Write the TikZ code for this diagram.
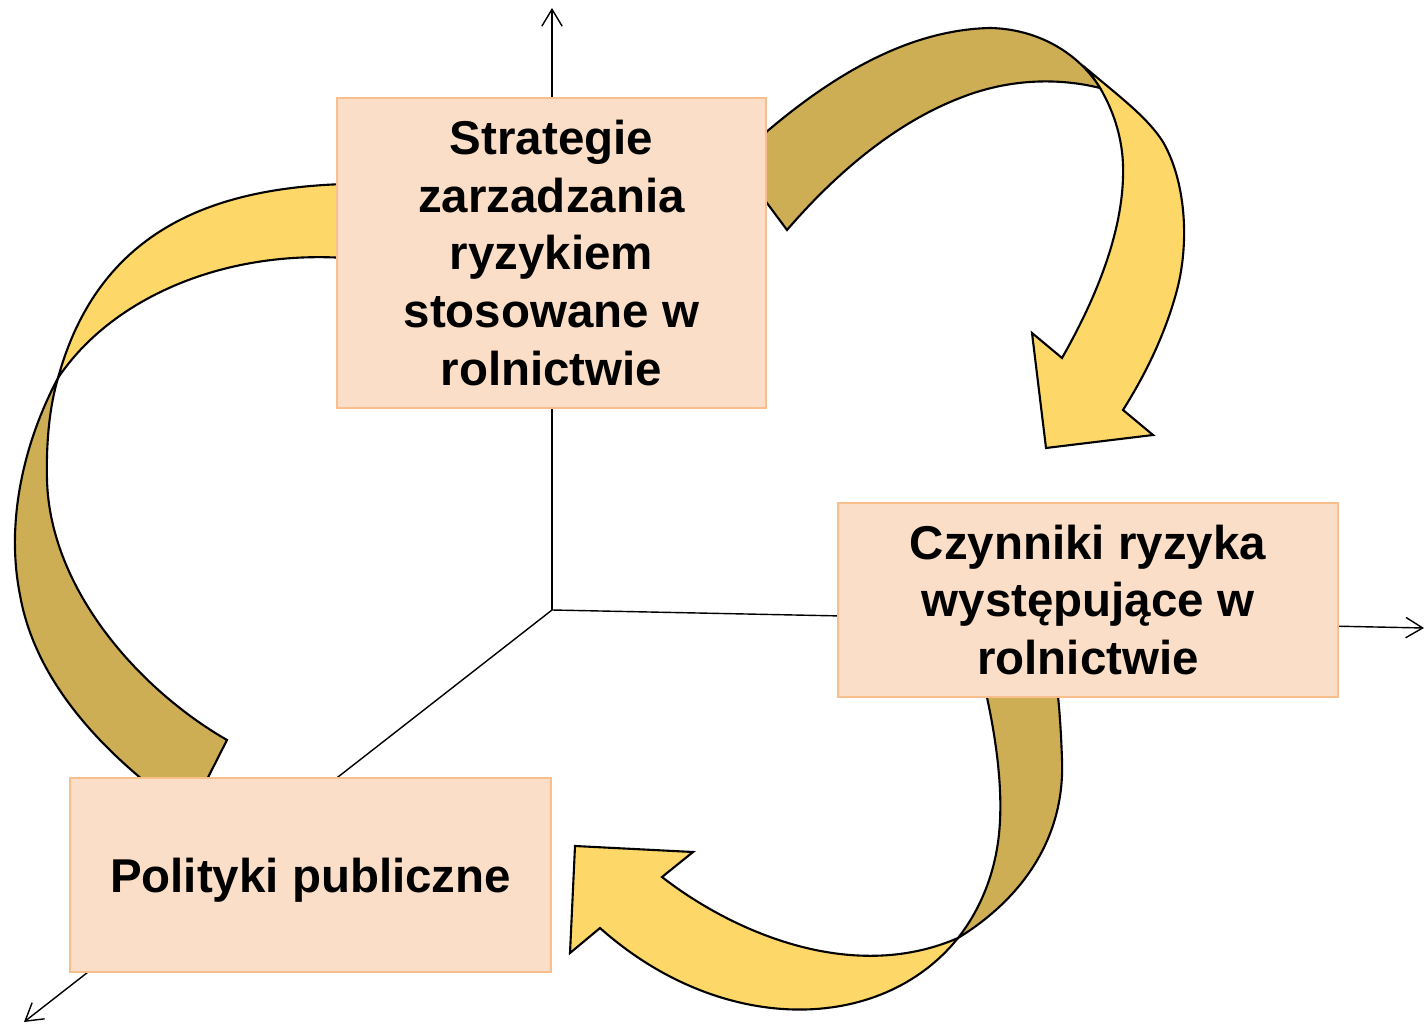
\documentclass[tikz,border=0pt]{standalone}
\usepackage{fontspec}
\setmainfont{Liberation Sans}
\usetikzlibrary{arrows.meta}
\definecolor{boxFill}{RGB}{250,222,199}
\definecolor{boxLine}{RGB}{248,190,140}
\definecolor{ribbonFront}{RGB}{253,216,104}
\definecolor{ribbonBack}{RGB}{205,174,84}

\begin{document}
\begin{tikzpicture}[x=0.01cm, y=-0.01cm, >={Straight Barb[length=4.8pt,width=5.8pt]},
    box/.style={draw=boxLine, fill=boxFill, line width=0.6pt, align=center, inner sep=0pt,
        font=\fontsize{13.5}{16.4}\selectfont\bfseries},
    front/.style={fill=ribbonFront, draw=black, line width=0.6pt},
    back/.style={fill=ribbonBack, draw=black, line width=0.6pt}]
    \useasboundingbox (0,0) rectangle (1428,1025);
    % axes
    \coordinate (O) at (552,610);
    \coordinate (yTop) at (552,8);
    \coordinate (xEnd) at (1424,628);
    \coordinate (zEnd) at (24,1022);
    \draw[->] (O) -- (yTop);
    \draw[->] (O) -- (xEnd);
    \draw[->] (O) -- (zEnd);
    % ribbon: strategie -> czynniki
    \filldraw[front] (1088,70) .. controls (1120,97) and (1148,118) .. (1163,142)
        .. controls (1185,180) and (1190,240) .. (1177,290)
        .. controls (1165,335) and (1145,375) .. (1123,410)
        -- (1153,435) -- (1046,448) -- (1032,333) -- (1062,358)
        .. controls (1095,300) and (1125,230) .. (1123,165)
        .. controls (1122,135) and (1112,108) .. (1100,88) -- cycle;
    \filldraw[back] (735,160) .. controls (815,85) and (900,30) .. (990,28)
        .. controls (1040,29) and (1080,55) .. (1100,88)
        .. controls (1060,78) and (1010,78) .. (960,98)
        .. controls (890,125) and (830,180) .. (787,230) -- cycle;
    % ribbon: polityki -> strategie
    \filldraw[front] (345,184) .. controls (220,188) and (100,225) .. (58,378)
        .. controls (110,300) and (220,250) .. (345,258) -- cycle;
    \filldraw[back] (58,378) .. controls (25,440) and (5,520) .. (20,595)
        .. controls (35,680) and (100,750) .. (175,805)
        -- (194,805) -- (227,740)
        .. controls (140,690) and (50,590) .. (47,480)
        .. controls (46,440) and (50,405) .. (58,378) -- cycle;
    % ribbon: czynniki -> polityki
    \filldraw[back] (983,680) .. controls (995,730) and (1002,780) .. (1000,820)
        .. controls (998,870) and (980,910) .. (958,938)
        .. controls (1020,900) and (1065,840) .. (1062,760)
        .. controls (1061,730) and (1059,700) .. (1056,680) -- cycle;
    \filldraw[front] (958,938) .. controls (880,1035) and (720,1035) .. (600,928)
        -- (570,953) -- (575,846) -- (693,852) -- (662,877)
        .. controls (730,930) and (850,985) .. (958,938) -- cycle;
    % boxes
    \node[box, minimum width=4.29cm, minimum height=3.10cm] (strat) at (551.5,253)
        {Strategie\\ zarzadzania\\ ryzykiem\\ stosowane w\\ rolnictwie};
    \node[box, minimum width=5.00cm, minimum height=1.94cm] (czyn) at (1088,600)
        {Czynniki ryzyka\\ występujące w\\ rolnictwie};
    \node[box, minimum width=4.81cm, minimum height=1.94cm, text depth=0pt] (polit) at (310.5,875)
        {Polityki publiczne};
\end{tikzpicture}
\end{document}
